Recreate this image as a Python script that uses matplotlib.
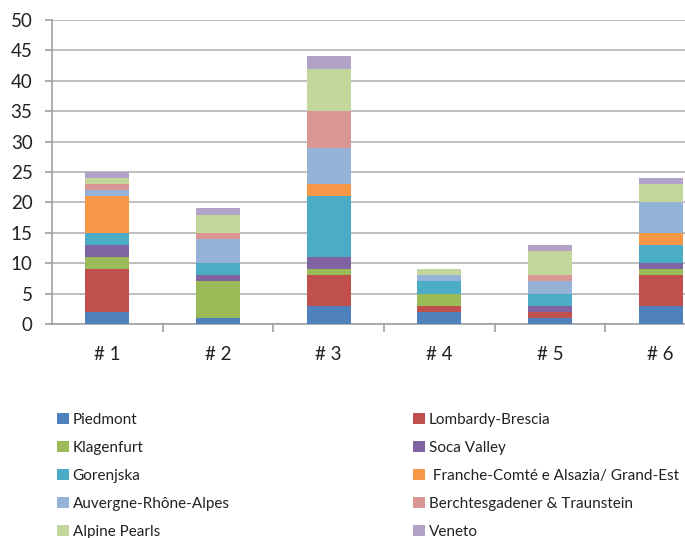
import matplotlib
matplotlib.use("Agg")
import matplotlib.pyplot as plt
import numpy as np
from matplotlib.patches import Patch

plt.rcParams['font.family'] = ['Lato', 'DejaVu Sans']

categories = ["# 1", "# 2", "# 3", "# 4", "# 5", "# 6"]
series_names = ["Piedmont", "Lombardy-Brescia", "Klagenfurt", "Soca Valley", "Gorenjska",
                " Franche-Comté e Alsazia/ Grand-Est", "Auvergne-Rhône-Alpes",
                "Berchtesgadener & Traunstein", "Alpine Pearls", "Veneto"]
piedmont = [2, 1, 3, 2, 1, 3]
lombardy = [7, 0, 5, 1, 1, 5]
klagenfurt = [2, 6, 1, 2, 0, 1]
soca = [2, 1, 2, 0, 1, 1]
gorenjska = [2, 2, 10, 2, 2, 3]
franche = [6, 0, 2, 0, 0, 2]
auvergne = [1, 4, 6, 1, 2, 5]
berchtes = [1, 1, 6, 0, 1, 0]
alpine = [1, 3, 7, 1, 4, 3]
veneto = [1, 1, 2, 0, 1, 1]
series = [piedmont, lombardy, klagenfurt, soca, gorenjska, franche, auvergne, berchtes, alpine, veneto]
colors = ["#4F81BD", "#C0504D", "#9BBB59", "#8064A2", "#4BACC6", "#F79646",
          "#95B3D7", "#D99694", "#C3D69B", "#B3A2C7"]

fig = plt.figure(figsize=(6.85, 5.38), dpi=100)
ax = fig.add_axes([52/685, 1-324/538, 664/685, 304/538])

x = np.arange(len(categories))
bottom = np.zeros(len(categories))
handles = []
for vals, name, c in zip(series, series_names, colors):
    v = np.array(vals, dtype=float)
    ax.bar(x, v, 0.4, bottom=bottom, color=c, zorder=3)
    bottom += v
    handles.append(Patch(facecolor=c, label=name))

ax.set_xlim(-0.5, len(categories) - 0.5)
ax.set_ylim(0, 50)
ax.set_yticks(range(0, 51, 5))
ax.yaxis.grid(True, color="#b3b3b3", linewidth=1.2, zorder=0)
for s in ["top", "right"]:
    ax.spines[s].set_visible(False)
for s in ["left", "bottom"]:
    ax.spines[s].set_color("#a0a0a0")
    ax.spines[s].set_linewidth(1.2)
ax.set_xticks(x)
ax.set_xticklabels(categories)
ax.tick_params(axis="x", length=0, labelsize=13.5, pad=15.5, colors="#222222")
ax.set_xticks(np.arange(0.5, len(categories) - 0.5, 1), minor=True)
ax.tick_params(axis="x", which="minor", length=6, color="#a0a0a0", width=1.2)
ax.tick_params(axis="y", length=5, width=1.2, labelsize=13.5, pad=9)
ax.tick_params(axis="y", colors="#a0a0a0", labelcolor="#222222")

legend_kw = dict(ncol=1, loc="upper left", frameon=False, fontsize=11,
                 handlelength=0.78, handleheight=0.72, handletextpad=0.25,
                 labelspacing=0.92, borderaxespad=0, borderpad=0)
left_idx = [0, 2, 4, 6, 8]
right_idx = [1, 3, 5, 7, 9]
leg1 = fig.legend([handles[i] for i in left_idx], [series_names[i] for i in left_idx],
                  bbox_to_anchor=(57/685, 1-413/538), **legend_kw)
leg2 = fig.legend([handles[i] for i in right_idx], [series_names[i] for i in right_idx],
                  bbox_to_anchor=(413/685, 1-413/538), **legend_kw)
for leg in (leg1, leg2):
    for t in leg.get_texts():
        t.set_color("#222222")

fig.savefig("out.png", dpi=100)
